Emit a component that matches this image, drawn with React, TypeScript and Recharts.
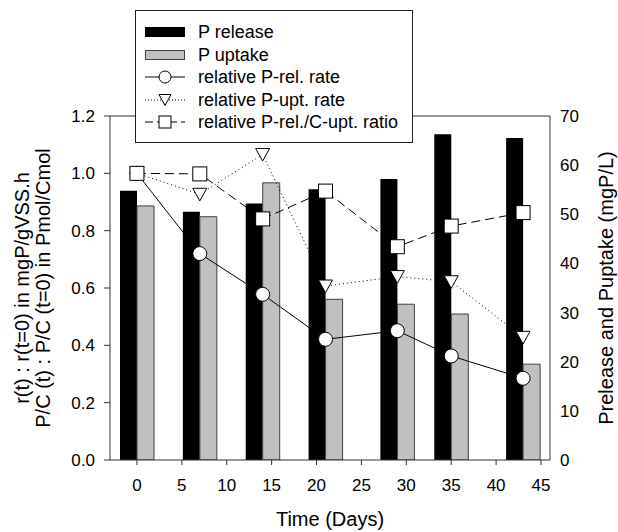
import React from 'react';
import { ComposedChart, Bar, Line, XAxis, YAxis, ReferenceLine, Legend } from 'recharts';

const days = [0, 7, 14, 21, 29, 35, 43];
const pRelease = [54.8, 50.5, 52.2, 55.1, 57.2, 66.3, 65.5];
const pUptake = [51.7, 49.5, 56.4, 32.7, 31.7, 29.7, 19.5];
const relPRelRate = [1.0, 0.72, 0.578, 0.421, 0.451, 0.363, 0.285];
const relPUptRate = [1.0, 0.927, 1.066, 0.607, 0.64, 0.622, 0.428];
const relRatio = [1.0, 0.998, 0.841, 0.938, 0.744, 0.816, 0.863];

const xTicks = [0, 5, 10, 15, 20, 25, 30, 35, 40, 45];
const leftTicks = [0, 0.2, 0.4, 0.6, 0.8, 1.0, 1.2];
const rightTicks = [0, 10, 20, 30, 40, 50, 60, 70];

const seriesNames = [
  'P release',
  'P uptake',
  'relative P-rel. rate',
  'relative P-upt. rate',
  'relative P-rel./C-upt. ratio',
];

const data = days.map((d, i) => ({
  day: d,
  pRelease: pRelease[i],
  pUptake: pUptake[i],
  relPRelRate: relPRelRate[i],
  relPUptRate: relPUptRate[i],
  relRatio: relRatio[i],
}));

const FONT = '"Liberation Sans", Arial, Helvetica, sans-serif';
const AXIS = '#333';
const TITLE_SIZE = 20;

const CircleDot = (p: any) => {
  if (p.cx == null || p.cy == null) return <g key={p.key} />;
  return <circle key={p.key} cx={p.cx} cy={p.cy} r={7} fill="#fff" stroke="#000" strokeWidth={1} />;
};
const TriDot = (p: any) => {
  if (p.cx == null || p.cy == null) return <g key={p.key} />;
  const s = 7;
  const pts = `${p.cx - s},${p.cy - s * 0.85} ${p.cx + s},${p.cy - s * 0.85} ${p.cx},${p.cy + s * 0.95}`;
  return <polygon key={p.key} points={pts} fill="#fff" stroke="#000" strokeWidth={1} />;
};
const SquareDot = (p: any) => {
  if (p.cx == null || p.cy == null) return <g key={p.key} />;
  return <rect key={p.key} x={p.cx - 7} y={p.cy - 7} width={14} height={14} fill="#fff" stroke="#000" strokeWidth={1} />;
};

const rowCenters = [22, 44.5, 67, 89.5, 112];

const LegendBox = () => {
  const icons = [
    <rect x={0} y={5} width={40} height={10} fill="#000" />,
    <rect x={0.5} y={5.5} width={39} height={9} fill="#c0c0c0" stroke="#404040" />,
    <g>
      <line x1={0} y1={10} x2={40} y2={10} stroke="#000" />
      <circle cx={20} cy={10} r={6} fill="#fff" stroke="#000" />
    </g>,
    <g>
      <line x1={0} y1={10} x2={40} y2={10} stroke="#000" strokeDasharray="1 2" />
      <polygon points="14,4.5 26,4.5 20,15.5" fill="#fff" stroke="#000" />
    </g>,
    <g>
      <line x1={0} y1={10} x2={40} y2={10} stroke="#000" strokeDasharray="8 4" />
      <rect x={14} y={4} width={12} height={12} fill="#fff" stroke="#000" />
    </g>,
  ];
  return (
    <div
      style={{
        position: 'relative',
        width: 278,
        height: 133,
        boxSizing: 'border-box',
        border: '1px solid #222',
        background: '#fff',
        fontFamily: FONT,
        fontSize: 18,
        color: '#000',
      }}
    >
      {seriesNames.map((n, i) => (
        <div key={n} style={{ position: 'absolute', left: 0, top: rowCenters[i] - 10 - 1, height: 20, width: 276 }}>
          <svg width={40} height={20} style={{ position: 'absolute', left: 9, top: 0 }}>
            {icons[i]}
          </svg>
          <span style={{ position: 'absolute', left: 62, top: 0, lineHeight: '20px', whiteSpace: 'nowrap' }}>{n}</span>
        </div>
      ))}
    </div>
  );
};

const LeftTitle = () => (
  <g>
    <text x={22} y={288} transform="rotate(-90 22 288)" textAnchor="middle" dominantBaseline="central" fontSize={TITLE_SIZE} fontFamily={FONT} fill="#000">
      r(t) : r(t=0) in mgP/gVSS.h
    </text>
    <text x={43} y={288} transform="rotate(-90 43 288)" textAnchor="middle" dominantBaseline="central" fontSize={TITLE_SIZE} fontFamily={FONT} fill="#000">
      P/C (t) : P/C (t=0) in Pmol/Cmol
    </text>
  </g>
);

const RightTitle = () => (
  <text x={606} y={288} transform="rotate(-90 606 288)" textAnchor="middle" dominantBaseline="central" fontSize={TITLE_SIZE} fontFamily={FONT} fill="#000">
    Prelease and Puptake (mgP/L)
  </text>
);

const BottomTitle = () => (
  <text x={330} y={519} textAnchor="middle" dominantBaseline="central" fontSize={TITLE_SIZE} fontFamily={FONT} fill="#000">
    Time (Days)
  </text>
);

const tickStyle = { fill: '#000', fontSize: 17, fontFamily: FONT };

export default function App() {
  return (
    <div style={{ width: 618, height: 532, position: 'relative', background: '#fff' }}>
      <style>{'body{margin:0;background:#fff}'}</style>
      <ComposedChart
        width={618}
        height={532}
        data={data}
        margin={{ top: 116, right: 0, bottom: 0, left: 0 }}
        barGap={0}
      >
        <XAxis
          dataKey="day"
          type="number"
          domain={[-3, 46]}
          allowDataOverflow
          ticks={xTicks}
          height={72}
          tickSize={5}
          tickMargin={14}
          stroke={AXIS}
          tick={tickStyle}
          label={{ content: () => <BottomTitle /> }}
        />
        <YAxis
          yAxisId="left"
          orientation="left"
          domain={[0, 1.2]}
          allowDataOverflow
          ticks={leftTicks}
          width={110}
          tickSize={6}
          tickMargin={9}
          tickFormatter={(v: number) => v.toFixed(1)}
          stroke={AXIS}
          tick={tickStyle}
          label={{ content: () => <LeftTitle /> }}
        />
        <YAxis
          yAxisId="right"
          orientation="right"
          domain={[0, 70]}
          allowDataOverflow
          ticks={rightTicks}
          width={68}
          tickLine={false}
          tickSize={0}
          tickMargin={10}
          stroke={AXIS}
          tick={tickStyle}
          label={{ content: () => <RightTitle /> }}
        />
        <ReferenceLine yAxisId="left" y={1.2} stroke={AXIS} />
        <Bar yAxisId="right" dataKey="pRelease" name={seriesNames[0]} fill="#000" barSize={17} isAnimationActive={false} />
        <Bar yAxisId="right" dataKey="pUptake" name={seriesNames[1]} fill="#c0c0c0" stroke="#404040" strokeWidth={1} barSize={17} isAnimationActive={false} />
        <Line yAxisId="left" dataKey="relPRelRate" name={seriesNames[2]} stroke="#000" strokeWidth={1} dot={CircleDot} activeDot={false} isAnimationActive={false} />
        <Line yAxisId="left" dataKey="relPUptRate" name={seriesNames[3]} stroke="#000" strokeWidth={1} strokeDasharray="1 3" dot={TriDot} activeDot={false} isAnimationActive={false} />
        <Line yAxisId="left" dataKey="relRatio" name={seriesNames[4]} stroke="#000" strokeWidth={1} strokeDasharray="9 5" dot={SquareDot} activeDot={false} isAnimationActive={false} />
        <Legend
          layout="vertical"
          align="center"
          verticalAlign="middle"
          content={() => <LegendBox />}
          wrapperStyle={{ position: 'absolute', left: 135, top: 10, width: 278, height: 133 }}
        />
      </ComposedChart>
    </div>
  );
}
